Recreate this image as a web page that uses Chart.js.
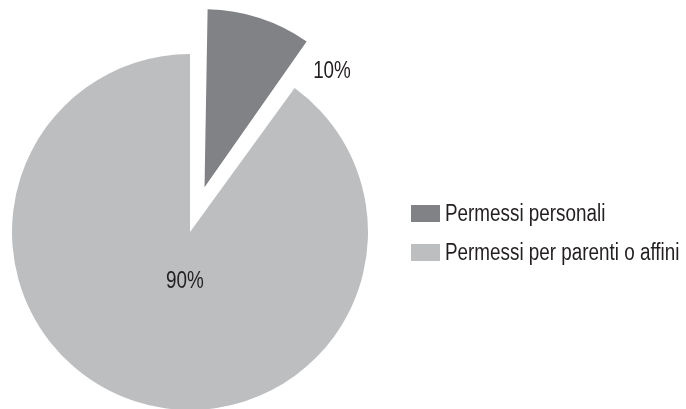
<!DOCTYPE html>
<html>
<head>
<meta charset="utf-8">
<script src="https://cdn.jsdelivr.net/npm/chart.js@4.4.1/dist/chart.umd.min.js"></script>
<style>
  html, body { margin: 0; padding: 0; background: #fff; }
  #wrap { position: relative; width: 686px; height: 409px; overflow: hidden; }
  #legend {
    position: absolute; left: 411px; top: 201px; margin: 0; padding: 0; list-style: none;
    font-family: 'Liberation Sans', Arial, sans-serif;
    font-size: 23px; color: #231f20;
  }
  #legend li { display: flex; align-items: center; height: 25px; margin-bottom: 14px; white-space: nowrap; }
  #legend .box { width: 29px; height: 17px; margin-right: 5px; flex: none; }
  /* no narrow face installed, so squeeze the regular one */
  #legend .txt { display: inline-block; transform: scaleX(0.82); transform-origin: left center; }
</style>
</head>
<body>
<div id="wrap">
  <canvas id="pie" width="686" height="409"></canvas>
  <ul id="legend"></ul>
</div>
<script>
// data
const categories = ['Permessi personali', 'Permessi per parenti o affini'];
const shares = [10, 90];
const sliceColors = ['#808285', '#bcbec0'];

const textFont = "23px 'Liberation Sans', Arial, sans-serif";
const narrow = 0.82;

// Chart.js grows an offset slice's radius a bit - undo that so both slices match
const keepRadius = {
  id: 'keepRadius',
  afterDatasetUpdate(chart, args) {
    args.meta.data.forEach(arc => {
      const off = (arc.options.offset || 0) / 4;
      const fix = 1 - Math.sin(Math.min(Math.PI, arc.circumference));
      arc.outerRadius -= off * fix;
    });
  }
};

// percentage labels drawn next to the slices
const pctLabels = {
  id: 'pctLabels',
  afterDatasetsDraw(chart, args, opts) {
    const ctx = chart.ctx;
    const meta = chart.getDatasetMeta(0);
    const total = shares.reduce((a, b) => a + b, 0);
    ctx.save();
    ctx.font = opts.font;
    ctx.fillStyle = opts.color;
    ctx.textAlign = 'center';
    ctx.textBaseline = 'middle';
    meta.data.forEach((arc, i) => {
      const p = opts.placements[i];
      const { x, y, startAngle, endAngle } = arc.getProps(['x', 'y', 'startAngle', 'endAngle'], true);
      const base = p.from === 'end' ? endAngle : (startAngle + endAngle) / 2;
      const a = base + p.turn * Math.PI / 180;
      const r = 178 * p.radius;
      ctx.save();
      ctx.translate(x + Math.cos(a) * r, y + Math.sin(a) * r);
      ctx.scale(narrow, 1);
      ctx.fillText(Math.round(shares[i] / total * 100) + '%', 0, 0);
      ctx.restore();
    });
    ctx.restore();
  }
};

const chart = new Chart(document.getElementById('pie'), {
  type: 'pie',
  data: {
    labels: categories,
    datasets: [{
      data: shares,
      backgroundColor: sliceColors,
      borderWidth: 0,
      offset: [188, 0],
      hoverOffset: 0,
      clip: false
    }]
  },
  options: {
    responsive: false,
    animation: false,
    radius: 178,
    layout: { padding: { left: 0, right: 306, top: 55, bottom: 0 } },
    plugins: {
      legend: { display: false },
      tooltip: { enabled: false },
      pctLabels: {
        font: textFont,
        color: '#231f20',
        placements: [
          { from: 'end', turn: 5.5, radius: 1.204 },
          { from: 'mid', turn: -12.2, radius: 0.28 }
        ]
      }
    }
  },
  plugins: [keepRadius, pctLabels]
});

// legend as html, built from the chart's own items
const legendEl = document.getElementById('legend');
chart.options.plugins.legend.labels.generateLabels(chart).forEach(item => {
  const li = document.createElement('li');
  const box = document.createElement('span');
  box.className = 'box';
  box.style.background = item.fillStyle;
  const txt = document.createElement('span');
  txt.className = 'txt';
  txt.textContent = item.text;
  li.appendChild(box);
  li.appendChild(txt);
  legendEl.appendChild(li);
});
</script>
</body>
</html>
